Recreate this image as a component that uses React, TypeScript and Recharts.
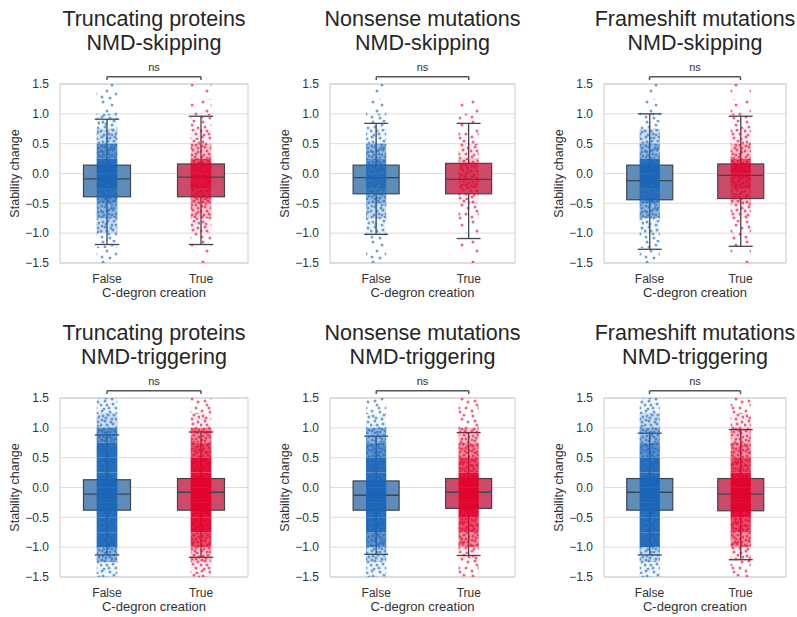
import React from 'react';
import { ComposedChart, Bar, XAxis, YAxis, CartesianGrid, ReferenceLine, ReferenceArea, Label } from 'recharts';

// ---------- data ----------
const CATEGORIES = ['False', 'True'];
const TITLE_LINE1 = ['Truncating proteins', 'Nonsense mutations', 'Frameshift mutations', 'Truncating proteins', 'Nonsense mutations', 'Frameshift mutations'];
const TITLE_LINE2 = ['NMD-skipping', 'NMD-skipping', 'NMD-skipping', 'NMD-triggering', 'NMD-triggering', 'NMD-triggering'];
const Y_TICKS = [-1.5, -1, -0.5, 0, 0.5, 1, 1.5];
const SIG_LABEL = 'ns';
const X_LABEL = 'C-degron creation';
const Y_LABEL = 'Stability change';

// [False, True] per panel
const Q1 = [[-0.39, -0.39], [-0.34, -0.34], [-0.44, -0.42], [-0.38, -0.38], [-0.38, -0.35], [-0.38, -0.39]];
const Q3 = [[0.14, 0.16], [0.14, 0.17], [0.14, 0.16], [0.13, 0.15], [0.11, 0.15], [0.15, 0.15]];
const MEDIAN = [[-0.09, -0.06], [-0.07, -0.1], [-0.12, -0.03], [-0.11, -0.08], [-0.13, -0.08], [-0.08, -0.11]];
const WHISKER_LOW = [[-1.19, -1.19], [-1.02, -1.09], [-1.27, -1.22], [-1.13, -1.17], [-1.12, -1.14], [-1.13, -1.21]];
const WHISKER_HIGH = [[0.91, 0.96], [0.84, 0.84], [1.0, 0.96], [0.88, 0.93], [0.86, 0.92], [0.91, 0.97]];

// point-cloud density levels (0..8) per 0.25-wide bin, bottom to top
const BIN_LOWER = [-1.5, -1.25, -1, -0.75, -0.5, -0.25, 0, 0.25, 0.5, 0.75, 1, 1.25];
const BIN_SIZE = 0.25;
const DENSITY_FALSE = [
  [2, 3, 5, 6, 7, 8, 8, 7, 5, 4, 2, 2],
  [2, 2, 4, 5, 6, 7, 7, 6, 4, 3, 2, 1],
  [2, 3, 4, 6, 7, 8, 8, 6, 5, 3, 2, 1],
  [4, 6, 8, 8, 8, 8, 8, 8, 8, 7, 5, 4],
  [4, 5, 7, 8, 8, 8, 8, 8, 7, 6, 4, 3],
  [4, 5, 8, 8, 8, 8, 8, 8, 7, 6, 5, 4],
];
const DENSITY_TRUE = [
  [1, 2, 4, 5, 6, 7, 7, 5, 4, 3, 2, 1],
  [1, 1, 2, 3, 4, 5, 5, 4, 3, 2, 1, 0],
  [1, 2, 3, 4, 5, 6, 7, 5, 4, 3, 2, 1],
  [4, 5, 7, 8, 8, 8, 8, 8, 7, 6, 4, 3],
  [3, 4, 6, 7, 8, 8, 8, 7, 6, 5, 3, 3],
  [3, 4, 6, 7, 8, 8, 8, 7, 6, 5, 4, 3],
];

// ---------- style / layout ----------
const DOT_COLORS = ['#1864b8', '#e2002b'];
const BOX_FILLS = ['#5f8cb9', '#cd4b69'];
const BOX_EDGE = '#3d4650';
const TEXT = '#333333';
const FONT = '"Liberation Sans", Arial, Helvetica, sans-serif';
const PANEL_LEFT = [60, 330, 604];
const PANEL_WIDTH = [188, 185, 182];
const ROW_TOP = [0, 314];
const PLOT_TOP = 84;
const CHART_H = 310;

// decorative texture for the point cloud (pattern tile 20x20)
const TEXTURE = [
  [3, 2], [12, 5], [7, 11], [16, 14], [2, 17], [10, 18], [18, 8], [5, 7], [14, 1], [9, 14],
  [1, 11], [17, 19], [6, 4], [13, 10], [4, 15], [19, 3], [8, 1], [15, 17], [11, 8], [2, 6],
  [18, 12], [7, 18], [12, 15], [16, 5], [3, 12], [10, 3], [14, 8], [5, 19], [9, 10], [19, 16],
];
const LEVEL_DOTS = [0, 3, 6, 10, 16, 24, 30, 30, 30];
const LEVEL_BG = [0, 0, 0, 0, 0.06, 0.22, 0.45, 0.7, 0.92];

function Patterns() {
  return (
    <svg width={0} height={0} style={{ position: 'absolute' }}>
      <defs>
        {DOT_COLORS.map((c, ci) =>
          LEVEL_DOTS.map((n, lvl) => (
            <pattern key={`${ci}-${lvl}`} id={`dots-${ci}-${lvl}`} patternUnits="userSpaceOnUse" width={20} height={20}>
              {LEVEL_BG[lvl] > 0 && <rect x={0} y={0} width={20} height={20} fill={c} fillOpacity={LEVEL_BG[lvl]} />}
              {TEXTURE.slice(0, n).map(([px, py], k) => (
                <circle key={k} cx={px} cy={py} r={1.5} fill={c} fillOpacity={0.6} />
              ))}
            </pattern>
          ))
        )}
      </defs>
    </svg>
  );
}

function makeBoxShape(panel: number) {
  return (props: any) => {
    const { x, y, width, height, index } = props;
    const g = index as number;
    const q1 = Q1[panel][g];
    const q3 = Q3[panel][g];
    const top = Math.min(y, y + height);
    const h = Math.abs(height);
    const ppu = h / (q3 - q1);
    const yOf = (v: number) => top + (q3 - v) * ppu;
    const cx = x + width / 2;
    const capHalf = width * 0.26;
    const jitter = width * 0.22;
    const dens = g === 0 ? DENSITY_FALSE[panel] : DENSITY_TRUE[panel];
    const yHi = yOf(WHISKER_HIGH[panel][g]);
    const yLo = yOf(WHISKER_LOW[panel][g]);
    const yMed = yOf(MEDIAN[panel][g]);
    return (
      <g>
        <line x1={cx} x2={cx} y1={yHi} y2={top} stroke={BOX_EDGE} strokeWidth={1.3} />
        <line x1={cx} x2={cx} y1={top + h} y2={yLo} stroke={BOX_EDGE} strokeWidth={1.3} />
        <line x1={cx - capHalf} x2={cx + capHalf} y1={yHi} y2={yHi} stroke={BOX_EDGE} strokeWidth={1.3} />
        <line x1={cx - capHalf} x2={cx + capHalf} y1={yLo} y2={yLo} stroke={BOX_EDGE} strokeWidth={1.3} />
        <rect x={x} y={top} width={width} height={h} fill={BOX_FILLS[g]} stroke={BOX_EDGE} strokeWidth={1.2} />
        <line x1={x} x2={x + width} y1={yMed} y2={yMed} stroke={BOX_EDGE} strokeWidth={1.3} />
        {BIN_LOWER.map((lo, i) =>
          dens[i] > 0 ? (
            <rect
              key={i}
              x={cx - jitter}
              y={yOf(lo + BIN_SIZE)}
              width={jitter * 2}
              height={BIN_SIZE * ppu}
              fill={`url(#dots-${g}-${dens[i]})`}
            />
          ) : null
        )}
      </g>
    );
  };
}

const fmt = (v: number) => (v < 0 ? '\u2212' + Math.abs(v).toFixed(1) : v.toFixed(1));

function YLab(props: any) {
  const vb = props.viewBox || {};
  const cx = (vb.x ?? 10) + 4.5;
  const cy = (vb.y ?? PLOT_TOP) + (vb.height ?? 179) / 2;
  return (
    <text x={cx} y={cy} transform={`rotate(-90 ${cx} ${cy})`} textAnchor="middle" dominantBaseline="central" fill={TEXT} fontSize={12.5}>
      {Y_LABEL}
    </text>
  );
}

function Panel({ panel }: { panel: number }) {
  const col = panel % 3;
  const row = Math.floor(panel / 3);
  const pw = PANEL_WIDTH[col];
  const left = PANEL_LEFT[col] - 60;
  const top = ROW_TOP[row];
  const data = CATEGORIES.map((cat, g) => ({ cat, box: [Q1[panel][g], Q3[panel][g]] }));
  const bracketY = 1.62;
  const bracketTick = 1.565;
  return (
    <div style={{ position: 'absolute', left, top, width: 60 + pw + 10, height: CHART_H }}>
      <div
        style={{
          position: 'absolute',
          left: 60 + pw / 2,
          top: 8.4,
          transform: 'translateX(-50%)',
          whiteSpace: 'nowrap',
          textAlign: 'center',
          fontSize: 21.5,
          lineHeight: '23.5px',
          color: '#262626',
        }}
      >
        <div>{TITLE_LINE1[panel]}</div>
        <div>{TITLE_LINE2[panel]}</div>
      </div>
      <div style={{ position: 'absolute', left: 0, top: 0 }}>
        <ComposedChart
          width={60 + pw + 10}
          height={CHART_H}
          data={data}
          margin={{ top: PLOT_TOP, right: 10, bottom: 7, left: 10 }}
          barCategoryGap="25%"
        >
          <CartesianGrid vertical={false} stroke="#dddddd" strokeWidth={1} />
          <ReferenceArea y1={-1.5} y2={1.5} fill="none" stroke="#cccccc" strokeWidth={1} ifOverflow="visible" />
          <XAxis
            dataKey="cat"
            type="category"
            axisLine={false}
            tickLine={false}
            tickSize={6}
            tickMargin={5}
            height={40}
            tick={{ fill: TEXT, fontSize: 12 }}
          >
            <Label value={X_LABEL} position="insideBottom" offset={6} fill={TEXT} fontSize={13} />
          </XAxis>
          <YAxis
            type="number"
            domain={[-1.5, 1.5]}
            ticks={Y_TICKS}
            interval={0}
            tickFormatter={fmt}
            axisLine={false}
            tickLine={false}
            tickSize={6}
            tickMargin={5}
            width={50}
            tick={{ fill: TEXT, fontSize: 12 }}
          >
            <Label content={<YLab />} />
          </YAxis>
          <Bar dataKey="box" shape={makeBoxShape(panel)} isAnimationActive={false} />
          <ReferenceLine
            segment={[{ x: CATEGORIES[0], y: bracketY }, { x: CATEGORIES[1], y: bracketY }]}
            stroke="#555555"
            strokeWidth={1.5}
            ifOverflow="visible"
            label={{ value: SIG_LABEL, position: 'top', offset: 6, fill: TEXT, fontSize: 11 }}
          />
          <ReferenceLine
            segment={[{ x: CATEGORIES[0], y: bracketY }, { x: CATEGORIES[0], y: bracketTick }]}
            stroke="#555555"
            strokeWidth={1.5}
            ifOverflow="visible"
          />
          <ReferenceLine
            segment={[{ x: CATEGORIES[1], y: bracketY }, { x: CATEGORIES[1], y: bracketTick }]}
            stroke="#555555"
            strokeWidth={1.5}
            ifOverflow="visible"
          />
        </ComposedChart>
      </div>
    </div>
  );
}

export default function App() {
  return (
    <div style={{ position: 'absolute', left: 0, top: 0, width: 797, height: 617, background: '#ffffff', fontFamily: FONT, overflow: 'hidden' }}>
      <Patterns />
      {[0, 1, 2, 3, 4, 5].map((p) => (
        <Panel key={p} panel={p} />
      ))}
    </div>
  );
}
